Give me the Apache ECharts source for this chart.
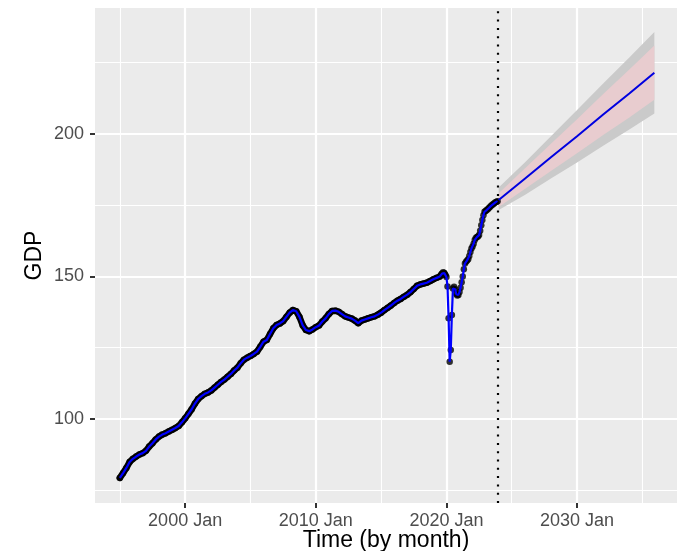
<!DOCTYPE html>
<html><head><meta charset="utf-8">
<script src="https://cdn.jsdelivr.net/npm/echarts@6/dist/echarts.min.js"></script>
<style>html,body{margin:0;padding:0;background:#fff}#c{width:686px;height:551px}</style>
</head><body><div id="c"></div>
<script>
// ---- data ----
const histDates = [
 '1995-01','1995-04','1995-07','1995-10','1996-01','1996-04','1996-07','1996-10',
 '1997-01','1997-04','1997-07','1997-10','1998-01','1998-04','1998-07','1998-10',
 '1999-01','1999-04','1999-07','1999-10','2000-01','2000-04','2000-07','2000-10',
 '2001-01','2001-04','2001-07','2001-10','2002-01','2002-04','2002-07','2002-10',
 '2003-01','2003-04','2003-07','2003-10','2004-01','2004-04','2004-07','2004-10',
 '2005-01','2005-04','2005-07','2005-10','2006-01','2006-04','2006-07','2006-10',
 '2007-01','2007-04','2007-07','2007-10','2008-01','2008-04','2008-07','2008-10',
 '2009-01','2009-04','2009-07','2009-10','2010-01','2010-04','2010-07','2010-10',
 '2011-01','2011-04','2011-07','2011-10','2012-01','2012-04','2012-07','2012-10',
 '2013-01','2013-04','2013-07','2013-10','2014-01','2014-04','2014-07','2014-10',
 '2015-01','2015-04','2015-07','2015-10','2016-01','2016-04','2016-07','2016-10',
 '2017-01','2017-04','2017-07','2017-10','2018-01','2018-04','2018-07','2018-10',
 '2019-01','2019-04','2019-07','2019-08','2019-09','2019-10','2019-11','2019-12',
 '2020-01','2020-02','2020-03','2020-04','2020-05','2020-06','2020-07','2020-08','2020-09','2020-10','2020-11','2020-12',
 '2021-01','2021-02','2021-03','2021-04','2021-05','2021-06','2021-07','2021-08','2021-09','2021-10','2021-11','2021-12',
 '2022-01','2022-02','2022-03','2022-04','2022-05','2022-06','2022-07','2022-08','2022-09','2022-10','2022-11','2022-12',
 '2023-01','2023-02','2023-03','2023-04','2023-05','2023-06','2023-07','2023-08','2023-09','2023-10','2023-11','2023-12'
];
const histValues = [
 79.3,81.0,82.8,84.9, 86.0,86.8,87.5,88.0,
 88.8,90.3,91.5,92.8, 93.8,94.5,95.0,95.6,
 96.2,96.8,97.5,98.8, 100.2,101.8,103.4,105.4,
 107.0,108.0,108.8,109.3, 110.0,111.0,112.0,113.0,
 113.8,114.8,115.8,117.0, 118.0,119.5,120.8,121.5,
 122.1,122.8,123.6,125.3, 127.1,127.7,129.8,131.8,
 133.0,133.5,134.3,135.8, 137.3,138.2,137.8,135.8,
 132.8,131.2,130.8,131.4, 132.2,132.8,134.2,135.3,
 136.8,137.9,138.0,137.6, 136.8,136.0,135.6,135.2,
 134.5,133.6,134.5,134.9, 135.3,135.7,136.0,136.6,
 137.3,138.2,139.0,139.8, 140.7,141.5,142.1,142.9,
 143.6,144.5,145.6,146.7, 147.2,147.5,147.8,148.4,
 149.0,149.5,150.0,150.5,151.0,151.5,151.2,150.5,
 149.8,146.5,135.3,120.1,124.2,136.5,145.8,146.4,145.5,143.8,143.3,143.5,
 144.5,146.0,148.0,150.0,152.5,154.5,155.2,155.6,156.0,157.2,158.6,159.8,
 160.5,161.5,162.8,163.5,163.8,164.0,164.5,166.0,168.0,169.8,171.5,172.7,
 173.0,173.3,173.6,174.0,174.4,174.8,175.1,175.4,175.7,176.0,176.2,176.4
];
const fcDates = ['2024-01','2026-01','2028-01','2030-01','2032-01','2034-01','2035-12'];
const fcMean  = [176.8,184.3,191.8,199.2,206.8,214.2,221.5];
const fcLo80  = [174.4,180.7,187.0,193.2,199.6,205.8,212.0];
const fcHi80  = [179.2,187.9,196.6,205.2,214.0,222.6,231.0];
const fcLo95  = [173.3,178.6,184.4,190.0,195.9,201.6,207.2];
const fcHi95  = [181.2,190.0,199.2,208.4,217.7,226.8,235.8];
const lastObs = '2023-12';
const xTickYears = [2000,2010,2020,2030];
const xTickLabels = ['2000 Jan','2010 Jan','2020 Jan','2030 Jan'];
const yTickValues = [100,150,200];
const xMajorGrid = [2000,2010,2020,2030];
const xMinorGrid = [1995,2005,2015,2025,2035];
const yMajorGrid = [100,150,200];
const yMinorGrid = [75,125,175,225];

// ---- helpers ----
const toYear = s => { const [y,m] = s.split('-').map(Number); return y + (m-1)/12; };
const pairs = (ds, vs) => ds.map((d,i) => [toYear(d), vs[i]]);
const FONT = 'Liberation Sans';

const gridLines = [];
xMinorGrid.forEach(v => gridLines.push({xAxis:v, lineStyle:{width:1.1}}));
yMinorGrid.forEach(v => gridLines.push({yAxis:v, lineStyle:{width:1.1}}));
xMajorGrid.forEach(v => gridLines.push({xAxis:v, lineStyle:{width:2.2}}));
yMajorGrid.forEach(v => gridLines.push({yAxis:v, lineStyle:{width:2.2}}));

// band polygon through the axes' scales
const band = (lo, hi, color, z) => ({
  type:'custom', silent:true, z,
  data:[[toYear(fcDates[0]), lo[0]]],
  renderItem: (params, api) => {
    const up = fcDates.map((d,i) => api.coord([toYear(d), hi[i]]));
    const dn = fcDates.map((d,i) => api.coord([toYear(d), lo[i]])).reverse();
    return {type:'polygon', shape:{points: up.concat(dn)}, style:{fill:color, stroke:null}};
  }
});

const histPre = pairs(histDates, histValues).filter(p => p[0] < 2020);

const chart = echarts.init(document.getElementById('c'), null, {renderer:'canvas'});
chart.setOption({
  animation:false,
  backgroundColor:'#ffffff',
  grid:{left:95, right:9, top:8, bottom:48, show:true, backgroundColor:'#EBEBEB', borderWidth:0,
        outerBoundsMode:'none', containLabel:false},
  xAxis:{
    type:'value', min:1993.1, max:2037.65, scale:true,
    name:'Time (by month)', nameLocation:'middle', nameGap:26, nameMoveOverlap:false,
    nameTextStyle:{fontFamily:FONT, fontSize:23, color:'#000'},
    axisLine:{show:false},
    splitLine:{show:false},
    axisTick:{show:true, length:5, lineStyle:{color:'#333', width:2}, customValues:xTickYears},
    axisLabel:{fontFamily:FONT, fontSize:18, color:'#4D4D4D', margin:9, customValues:xTickYears,
      formatter: v => xTickLabels[xTickYears.indexOf(Math.round(v))] || ''}
  },
  yAxis:{
    type:'value', min:70.5, max:244.2, scale:true,
    name:'GDP', nameLocation:'middle', nameGap:49, nameRotate:90, nameMoveOverlap:false,
    nameTextStyle:{fontFamily:FONT, fontSize:23, color:'#000'},
    axisLine:{show:false},
    splitLine:{show:false},
    axisTick:{show:true, length:5, lineStyle:{color:'#333', width:2}, customValues:yTickValues},
    axisLabel:{fontFamily:FONT, fontSize:18, color:'#4D4D4D', margin:11, customValues:yTickValues}
  },
  series:[
    band(fcLo95, fcHi95, '#CACACA', 2),
    band(fcLo80, fcHi80, '#E8CCCF', 2),
    {type:'line', data: pairs(fcDates, fcMean), showSymbol:false, silent:true,
     lineStyle:{color:'#0000E0', width:2}, z:4,
     markLine:{silent:true, symbol:'none', z:5, label:{show:false},
       lineStyle:{color:'#000', type:[2,6.3], width:2.2, cap:'butt'},
       data:[{xAxis: toYear(lastObs)}]}},
    {type:'line', data: histPre, showSymbol:false, silent:true,
     lineStyle:{color:'#000', width:6.5, join:'round', cap:'round'}, z:3},
    {type:'scatter', data: pairs(histDates, histValues), symbol:'circle', symbolSize:6.5,
     itemStyle:{color:'#000'}, silent:true, z:3,
     markLine:{silent:true, symbol:'none', z:1, label:{show:false},
       lineStyle:{color:'#ffffff', type:'solid'}, data: gridLines}},
    {type:'line', data: pairs(histDates, histValues), showSymbol:false, silent:true,
     lineStyle:{color:'#0000FF', width:2.2}, z:4}
  ]
});
</script></body></html>
